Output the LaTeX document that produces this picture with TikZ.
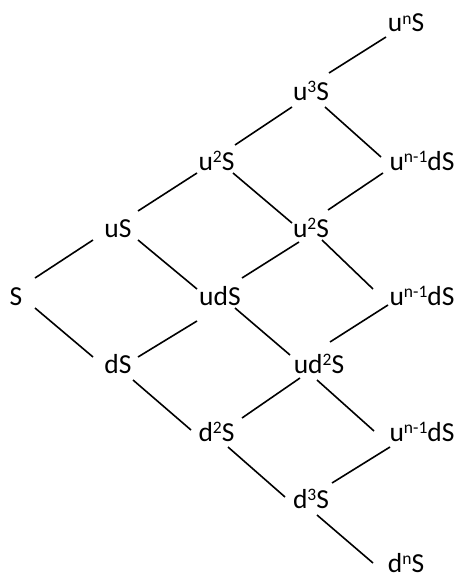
\documentclass[tikz,border=0pt]{standalone}
\usepackage{fontspec}
\setmainfont{Carlito}
\usetikzlibrary{calc}
% raised, smaller exponent in the text font
\newcommand\hi[1]{\raisebox{7.5pt}{\fontsize{17.5}{18}\selectfont #1}}
\begin{document}
\begin{tikzpicture}[x=1pt,y=-1pt,
  lbl/.style={anchor=base,inner sep=0pt,font=\fontsize{27.5}{33}\selectfont},
  link/.style={line width=1.6pt}]
\useasboundingbox (0,0) rectangle (457,578);

% lattice of prices
\node[lbl] (S)    at (16,305)    {S};
\node[lbl] (uS)   at (118,237)   {uS};
\node[lbl] (dS)   at (118,373)   {dS};
\node[lbl] (u2a)  at (216.5,170) {u\hi{2}S};
\node[lbl] (udS)  at (220,305)   {udS};
\node[lbl] (d2S)  at (216.5,441) {d\hi{2}S};
\node[lbl] (u3S)  at (311,100)   {u\hi{3}S};
\node[lbl] (u2b)  at (311,237)   {u\hi{2}S};
\node[lbl] (ud2S) at (319,373)   {ud\hi{2}S};
\node[lbl] (d3S)  at (311,508)   {d\hi{3}S};
\node[lbl] (unS)  at (406,32)    {u\hi{n}S};
\node[lbl] (n1a)  at (422,170)   {u\hi{n-1}dS};
\node[lbl] (n1b)  at (422,305)   {u\hi{n-1}dS};
\node[lbl] (n1c)  at (422,441)   {u\hi{n-1}dS};
\node[lbl] (dnS)  at (406,572)   {d\hi{n}S};

% branches
\draw[link] ($(S.base)+(19,-27)$)    -- ($(uS.base)+(-25,3)$);
\draw[link] ($(S.base)+(19,3)$)      -- ($(dS.base)+(-25,-16)$);
\draw[link] ($(uS.base)+(20,-26)$)   -- ($(u2a.base)+(-19.5,3)$);
\draw[link] ($(uS.base)+(20,3)$)     -- ($(udS.base)+(-23,-16)$);
\draw[link] ($(dS.base)+(20,-16)$)   -- ($(udS.base)+(-23,16)$);
\draw[link] ($(dS.base)+(15,7)$)     -- ($(d2S.base)+(-25.5,-11)$);
\draw[link] ($(u2a.base)+(18.5,-25)$) -- ($(u3S.base)+(-19,7)$);
\draw[link] ($(u2a.base)+(16.5,3)$)  -- ($(u2b.base)+(-19,-14)$);
\draw[link] ($(udS.base)+(22,-27)$)  -- ($(u2b.base)+(-12,5)$);
\draw[link] ($(udS.base)+(15,3)$)    -- ($(ud2S.base)+(-29,-18)$);
\draw[link] ($(d2S.base)+(25.5,-23)$) -- ($(ud2S.base)+(-19,5)$);
\draw[link] ($(d2S.base)+(11.5,6)$)  -- ($(d3S.base)+(-26,-11)$);
\draw[link] ($(u3S.base)+(18,-27)$)  -- ($(unS.base)+(-20,5)$);
\draw[link] ($(u3S.base)+(14,7)$)    -- ($(n1a.base)+(-41,-13)$);
\draw[link] ($(u2b.base)+(17,-27)$)  -- ($(n1a.base)+(-39,3)$);
\draw[link] ($(u2b.base)+(11,3)$)    -- ($(n1b.base)+(-49,-16)$);
\draw[link] ($(ud2S.base)+(11,-31)$) -- ($(n1b.base)+(-34,0)$);
\draw[link] ($(ud2S.base)+(-2,7)$)   -- ($(n1c.base)+(-48,-10)$);
\draw[link] ($(d3S.base)+(21,-25)$)  -- ($(n1c.base)+(-32,6)$);
\draw[link] ($(d3S.base)+(6,7)$)     -- ($(dnS.base)+(-33,-9)$);
\end{tikzpicture}
\end{document}
